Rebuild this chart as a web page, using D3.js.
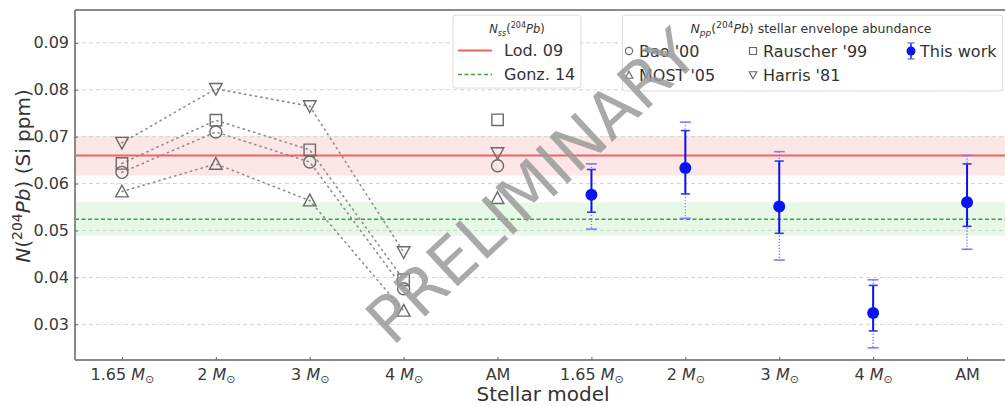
<!DOCTYPE html>
<html><head><meta charset="utf-8">
<script src="https://cdn.jsdelivr.net/npm/d3@7"></script>
<style>body{margin:0;background:#fff}svg{display:block;font-family:"DejaVu Sans",sans-serif}</style>
</head><body><svg id="c" width="1005" height="406"></svg>
<script>
// ---- data ----
const categories = ["1.65","2","3","4","AM","1.65","2","3","4","AM"];
const yTicks = [0.03,0.04,0.05,0.06,0.07,0.08,0.09];
const bao      = [0.0624, 0.0710, 0.0646, 0.0376, 0.0638];
const rauscher = [0.0643, 0.0735, 0.0672, 0.0395, 0.0736];
const most     = [0.0583, 0.0642, 0.0564, 0.0329, 0.0569];
const harris   = [0.0687, 0.0802, 0.0765, 0.0454, 0.0665];
const thisWork = [0.0576, 0.0633, 0.0551, 0.0324, 0.0560];
const innerLo  = [0.0539, 0.0578, 0.0494, 0.0286, 0.0509];
const innerHi  = [0.0630, 0.0713, 0.0648, 0.0383, 0.0642];
const outerLo  = [0.0503, 0.0526, 0.0437, 0.0250, 0.0460];
const outerHi  = [0.0642, 0.0731, 0.0668, 0.0395, 0.0660];
const lod   = {v:0.0660, lo:0.0617, hi:0.0701};
const gonz  = {v:0.0524, lo:0.0489, hi:0.0560};

const svg = d3.select("#c");
const x = d3.scaleLinear().domain([-0.5, 9.5]).range([75, 1014]);
const y = d3.scaleLinear().domain([0.0224, 0.097]).range([360, 10]);
const X0 = x.range()[0], X1 = x.range()[1];

// bands
svg.append("rect").attr("x",X0).attr("width",X1-X0).attr("y",y(lod.hi)).attr("height",y(lod.lo)-y(lod.hi)).attr("fill","#fde6e6");
svg.append("rect").attr("x",X0).attr("width",X1-X0).attr("y",y(gonz.hi)).attr("height",y(gonz.lo)-y(gonz.hi)).attr("fill","#e7f8e7");

// grid
svg.append("g").selectAll("line").data(yTicks).join("line")
  .attr("x1",X0).attr("x2",X1).attr("y1",d=>y(d)).attr("y2",d=>y(d))
  .attr("stroke","#d4d4d4").attr("stroke-width",1).attr("stroke-dasharray","4,3");

// reference lines
svg.append("line").attr("x1",X0).attr("x2",X1).attr("y1",y(lod.v)).attr("y2",y(lod.v))
  .attr("stroke","#f06262").attr("stroke-width",2);
svg.append("line").attr("x1",X0).attr("x2",X1).attr("y1",y(gonz.v)).attr("y2",y(gonz.v))
  .attr("stroke","#3f9f3f").attr("stroke-width",1.6).attr("stroke-dasharray","4,2.5");

// literature series
const grey = "#6a6a6a";
const shapes = {
  circle: s => `M${s},0A${s},${s} 0 1,1 ${-s},0A${s},${s} 0 1,1 ${s},0Z`,
  square: s => `M${-s},${-s}H${s}V${s}H${-s}Z`,
  up: s => `M0,${-s}L${s},${s*0.85}H${-s}Z`,
  down: s => `M0,${s}L${s},${-s*0.85}H${-s}Z`
};
const series = [
  {vals:bao, shape:"circle", size:6},
  {vals:rauscher, shape:"square", size:5.7},
  {vals:most, shape:"up", size:6.3},
  {vals:harris, shape:"down", size:6.3}
];
const lineGen = d3.line().x((d,i)=>x(i)).y(d=>y(d));
series.forEach(s=>{
  svg.append("path").attr("d", lineGen(s.vals.slice(0,4))).attr("fill","none")
    .attr("stroke","#8c8c8c").attr("stroke-width",1.6).attr("stroke-dasharray","1.2,4.3").attr("stroke-linecap","round");
});
series.forEach(s=>{
  svg.append("g").selectAll("path").data(s.vals).join("path")
    .attr("transform",(d,i)=>`translate(${x(i)},${y(d)})`)
    .attr("d", shapes[s.shape](s.size)).attr("fill","none").attr("stroke",grey).attr("stroke-width",1.4);
});

// this work
const blue = "#0a14f0";
const tw = thisWork.map((v,i)=>({i:i+5, v, il:innerLo[i], ih:innerHi[i], ol:outerLo[i], oh:outerHi[i]}));
const eg = svg.append("g");
tw.forEach(d=>{
  const cx = x(d.i);
  eg.append("line").attr("x1",cx).attr("x2",cx).attr("y1",y(d.oh)).attr("y2",y(d.ol))
    .attr("stroke","#6f74f4").attr("stroke-width",1.3).attr("stroke-dasharray","1.2,1.8");
  [d.ol,d.oh].forEach(v=>eg.append("line").attr("x1",cx-5.5).attr("x2",cx+5.5).attr("y1",y(v)).attr("y2",y(v))
    .attr("stroke","#7b80f4").attr("stroke-width",1.6));
  eg.append("line").attr("x1",cx).attr("x2",cx).attr("y1",y(d.ih)).attr("y2",y(d.il))
    .attr("stroke",blue).attr("stroke-width",2);
  [d.il,d.ih].forEach(v=>eg.append("line").attr("x1",cx-4.5).attr("x2",cx+4.5).attr("y1",y(v)).attr("y2",y(v))
    .attr("stroke","#3038f0").attr("stroke-width",1.6));
  eg.append("circle").attr("cx",cx).attr("cy",y(d.v)).attr("r",6).attr("fill",blue);
});

// spines
const spine = "#8a8a8a";
svg.append("line").attr("x1",X0).attr("x2",X1).attr("y1",10).attr("y2",10).attr("stroke",spine).attr("stroke-width",2);
svg.append("line").attr("x1",X0).attr("x2",X0).attr("y1",10).attr("y2",360).attr("stroke",spine).attr("stroke-width",2);
svg.append("line").attr("x1",X0).attr("x2",X1).attr("y1",360).attr("y2",360).attr("stroke",spine).attr("stroke-width",2);

// axes
const yAx = svg.append("g").attr("transform",`translate(${X0},0)`)
  .call(d3.axisLeft(y).tickValues(yTicks).tickFormat(d3.format(".2f")).tickSizeInner(-3).tickSizeOuter(0).tickPadding(6));
yAx.select(".domain").remove();
yAx.selectAll("line").attr("stroke","#666");
yAx.selectAll("text").attr("font-size",16).attr("fill","#3a3a3a").attr("font-family","DejaVu Sans");

const xAx = svg.append("g").attr("transform",`translate(0,360)`)
  .call(d3.axisBottom(x).tickValues(d3.range(categories.length)).tickFormat(()=>"").tickSizeInner(-3).tickSizeOuter(0));
xAx.select(".domain").remove();
xAx.selectAll("line").attr("stroke","#666");
xAx.selectAll(".tick").each(function(d){
  const c = categories[d];
  const t = d3.select(this).append("text").attr("y",19.5).attr("text-anchor","middle")
    .attr("font-size",16).attr("fill","#3a3a3a").attr("font-family","DejaVu Sans");
  if (c === "AM") { t.text("AM"); }
  else {
    t.append("tspan").text(c + " ");
    t.append("tspan").attr("font-style","italic").text("M");
    t.append("tspan").attr("font-size",11).attr("dy",3).text("\u2299");
  }
});

// axis labels
svg.append("text").attr("x",543).attr("y",401).attr("text-anchor","middle").attr("font-size",20).attr("fill","#333").text("Stellar model");
const yl = svg.append("text").attr("transform","translate(30,176) rotate(-90)").attr("text-anchor","middle").attr("font-size",20).attr("fill","#333");
yl.append("tspan").attr("font-style","italic").text("N");
yl.append("tspan").text("(");
yl.append("tspan").attr("font-size",14).attr("dy",-8).text("204");
yl.append("tspan").attr("font-style","italic").attr("dy",8).text("Pb");
yl.append("tspan").text(") (Si ppm)");

// legend 1
const lg1 = svg.append("g");
lg1.append("rect").attr("x",453).attr("y",15).attr("width",128).attr("height",73).attr("rx",3)
  .attr("fill","rgba(255,255,255,0.85)").attr("stroke","#dcdcdc");
const t1 = lg1.append("text").attr("x",517).attr("y",33).attr("text-anchor","middle").attr("font-size",11.5).attr("fill","#333");
t1.append("tspan").attr("font-style","italic").text("N");
t1.append("tspan").attr("font-style","italic").attr("font-size",8).attr("dy",3).text("ss");
t1.append("tspan").attr("dy",-3).text("(");
t1.append("tspan").attr("font-size",8).attr("dy",-5).text("204");
t1.append("tspan").attr("font-style","italic").attr("dy",5).text("Pb");
t1.append("tspan").text(")");
lg1.append("line").attr("x1",458).attr("x2",492).attr("y1",50.5).attr("y2",50.5).attr("stroke","#f06262").attr("stroke-width",2);
lg1.append("line").attr("x1",458).attr("x2",492).attr("y1",74.5).attr("y2",74.5).attr("stroke","#3f9f3f").attr("stroke-width",1.6).attr("stroke-dasharray","4,2.5");
lg1.append("text").attr("x",504).attr("y",56).attr("font-size",16).attr("fill","#333").text("Lod. 09");
lg1.append("text").attr("x",504).attr("y",80).attr("font-size",16).attr("fill","#333").text("Gonz. 14");

// legend 2
const lg2 = svg.append("g");
lg2.append("rect").attr("x",622.5).attr("y",15).attr("width",380).attr("height",76).attr("rx",3)
  .attr("fill","rgba(255,255,255,0.85)").attr("stroke","#dcdcdc");
const t2 = lg2.append("text").attr("x",811).attr("y",33).attr("text-anchor","middle").attr("font-size",12.5).attr("fill","#333");
t2.append("tspan").attr("font-style","italic").text("N");
t2.append("tspan").attr("font-style","italic").attr("font-size",9).attr("dy",3).text("pp");
t2.append("tspan").attr("dy",-3).text("(");
t2.append("tspan").attr("font-size",9).attr("dy",-5).text("204");
t2.append("tspan").attr("font-style","italic").attr("dy",5).text("Pb");
t2.append("tspan").text(") stellar envelope abundance");
const items = [
  {shape:"circle", size:3.6, x:629, y:51, label:"Bao '00"},
  {shape:"square", size:3.5, x:753, y:51, label:"Rauscher '99"},
  {shape:"up", size:3.8, x:629, y:75, label:"MOST '05"},
  {shape:"down", size:3.8, x:753, y:75, label:"Harris '81"}
];
items.forEach(it=>{
  lg2.append("path").attr("transform",`translate(${it.x},${it.y})`).attr("d",shapes[it.shape](it.size))
    .attr("fill","none").attr("stroke",grey).attr("stroke-width",1.2);
  lg2.append("text").attr("x",it.x+10).attr("y",it.y+6).attr("font-size",16).attr("fill","#333").text(it.label);
});
lg2.append("line").attr("x1",911).attr("x2",911).attr("y1",43).attr("y2",59).attr("stroke",blue).attr("stroke-width",1.5);
[43,59].forEach(v=>lg2.append("line").attr("x1",907.5).attr("x2",914.5).attr("y1",v).attr("y2",v).attr("stroke","#6f74f4").attr("stroke-width",1.4));
lg2.append("circle").attr("cx",911).attr("cy",51).attr("r",4.5).attr("fill",blue);
lg2.append("text").attr("x",920).attr("y",57).attr("font-size",16).attr("fill","#333").text("This work");

// watermark
svg.append("text").attr("transform","translate(535,190) rotate(-43)").attr("text-anchor","middle")
  .attr("dominant-baseline","middle").attr("font-size",64).attr("fill","#9a9a9a").attr("fill-opacity",0.85)
  .text("PRELIMINARY");
</script></body></html>
